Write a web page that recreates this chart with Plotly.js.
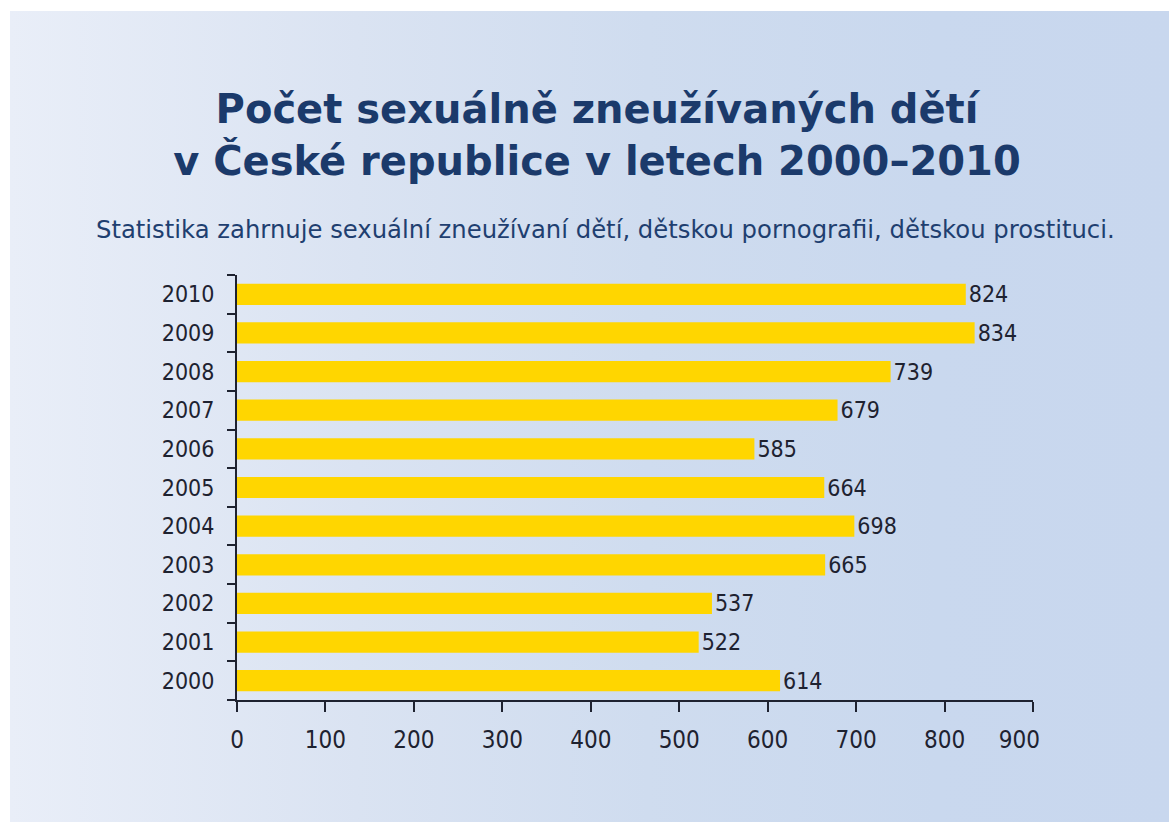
<!DOCTYPE html>
<html>
<head>
<meta charset="utf-8">
<script src="https://cdn.plot.ly/plotly-3.0.1.min.js"></script>
<style>
  html, body { margin: 0; padding: 0; background: #ffffff; }
  #wrap { position: relative; width: 1169px; height: 822px; overflow: hidden; }
  #bg { position: absolute; left: 10px; top: 11px; right: 0; bottom: 0;
        background: linear-gradient(to right, #e9eef8 0%, #dae3f2 30%, #cfdcef 55%, #c9d8ee 80%, #c8d7ee 100%); }
  #chart { position: absolute; left: 0; top: 0; width: 1169px; height: 822px; }
</style>
</head>
<body>
<div id="wrap"><div id="bg"></div><div id="chart"></div></div>
<script>
const years = ['2000','2001','2002','2003','2004','2005','2006','2007','2008','2009','2010'];
const counts = [614, 522, 537, 665, 698, 664, 585, 679, 739, 834, 824];
const xTicks = [0, 100, 200, 300, 400, 500, 600, 700, 800, 900];
const xTickText = ['0', '100', '200', '300', '400', '500', '600', '700', '800', '900\u00a0\u00a0\u00a0\u00a0'];
const titleText = 'Počet sexuálně zneužívaných dětí<br>v České republice v letech 2000–2010';
const subtitleText = 'Statistika zahrnuje sexuální zneužívaní dětí, dětskou pornografii, dětskou prostituci.';

const numFont = {family: '"DejaVu Sans Condensed", "DejaVu Sans", sans-serif', size: 23, color: '#1e2230'};

const trace = {
  type: 'bar',
  orientation: 'h',
  y: years,
  x: counts,
  text: counts.map(String),
  textposition: 'outside',
  constraintext: 'none',
  textfont: numFont,
  cliponaxis: false,
  marker: {color: '#ffd600', line: {width: 0}},
  hoverinfo: 'none'
};

const layout = {
  width: 1169,
  height: 822,
  paper_bgcolor: 'rgba(0,0,0,0)',
  plot_bgcolor: 'rgba(0,0,0,0)',
  margin: {l: 237, r: 136, t: 275, b: 122, pad: 0},
  showlegend: false,
  bargap: 0.45,
  title: {
    text: titleText,
    font: {family: '"DejaVu Sans", sans-serif', size: 40, weight: 'bold', color: '#1b3a6b'},
    x: 597 / 1169,
    xanchor: 'center',
    xref: 'container',
    y: 1 - 123 / 822,
    yanchor: 'middle',
    yref: 'container'
  },
  annotations: [{
    text: subtitleText,
    xref: 'paper', yref: 'paper',
    x: (605 - 237) / (1033 - 237),
    y: 1 + (275 - 229) / (700 - 275),
    xanchor: 'center', yanchor: 'middle',
    showarrow: false,
    font: {family: '"DejaVu Sans", sans-serif', size: 24.3, color: '#1f3f70'}
  }],
  xaxis: {
    range: [0, 900],
    tickvals: xTicks,
    ticktext: xTickText,
    showgrid: false,
    zeroline: false,
    showline: true,
    linecolor: '#1e2230',
    linewidth: 2,
    ticks: 'outside',
    ticklen: 10,
    tickwidth: 2,
    tickcolor: '#1e2230',
    ticklabelstandoff: 7,
    tickfont: {family: '"DejaVu Sans Condensed", "DejaVu Sans", sans-serif', size: 24, color: '#1e2230'},
    fixedrange: true
  },
  yaxis: {
    type: 'category',
    categoryorder: 'array',
    categoryarray: years,
    showgrid: false,
    zeroline: false,
    showline: true,
    linecolor: '#1e2230',
    linewidth: 2,
    ticks: 'outside',
    tickson: 'boundaries',
    ticklen: 8,
    tickwidth: 2,
    tickcolor: '#1e2230',
    ticklabelstandoff: 16,
    tickfont: numFont,
    fixedrange: true
  }
};

Plotly.newPlot('chart', [trace], layout, {displayModeBar: false, staticPlot: true});
</script>
</body>
</html>
